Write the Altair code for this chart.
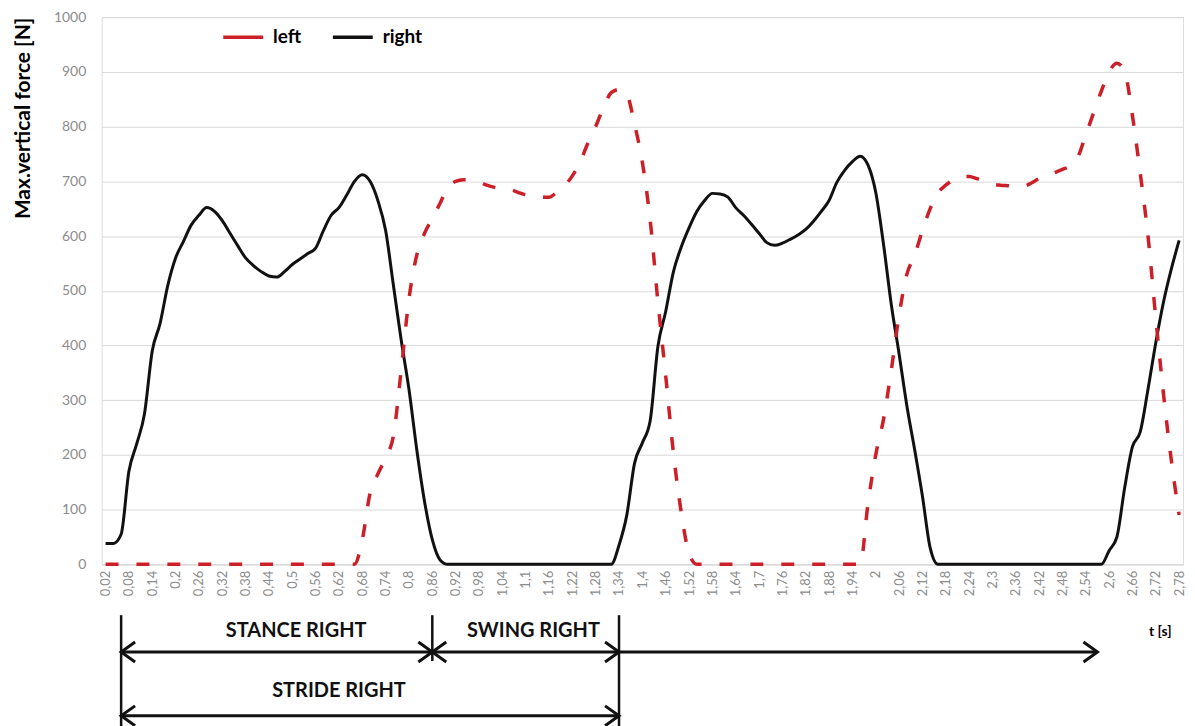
import altair as alt
import pandas as pd

# ---- data ---------------------------------------------------------------
# sample times (s): 0.02 ... 2.78, one sample every 0.02 s
times = [round(0.02 * (k + 1), 2) for k in range(139)]

right_force = (
    [38, 38, 55, 170, 220, 275, 390, 440, 510, 560,
     590, 620, 638, 652, 645, 628, 605, 582, 560, 546,
     535, 527, 525, 535, 548, 558, 568, 578, 610, 638,
     652, 675, 700, 712, 700, 665, 610, 510, 410, 320,
     210, 115, 45, 8]
    + [0] * 22
    + [35, 90, 185, 222, 262, 398, 462, 535, 580, 615,
       645, 665, 678, 677, 671, 652, 638, 622, 605, 588,
       583, 587, 594, 602, 612, 627, 645, 665, 698, 720,
       736, 746, 730, 680, 585, 475, 385, 290, 210, 125,
       30]
    + [0] * 22
    + [25, 50, 140, 215, 242, 320, 405, 480, 540, 592]
)

left_force = (
    [0] * 33
    + [45, 130, 165, 195, 235, 355, 485, 565, 605, 632,
       660, 689, 700, 703, 702, 699, 693, 689, 687, 685,
       680, 675, 672, 671, 671, 680, 692, 710, 735, 770,
       800, 835, 862, 868, 859, 804, 735, 630, 480, 345,
       203, 95, 20]
    + [0] * 22
    + [110, 200, 265, 355, 455, 530, 565, 610, 650, 679,
       693, 703, 708, 709, 705, 700, 695, 693, 692, 691,
       691, 697, 705, 710, 716, 722, 728, 745, 785, 825,
       865, 900, 916, 900, 820, 715, 600, 450, 310, 190,
       90]
)

series_names = ["left", "right"]
x_tick_values = times[::3]
y_tick_values = [0, 100, 200, 300, 400, 500, 600, 700, 800, 900, 1000]

# gait phases (s)
phase_names = ["STANCE RIGHT", "SWING RIGHT", "STRIDE RIGHT"]
phase_start = [0.06, 0.86, 0.06]
phase_end = [0.86, 1.34, 1.34]
phase_label_t = [0.51, 1.12, 0.62]
next_cycle_start = [1.34]
next_cycle_end = [2.57]

assert len(right_force) == len(times) == len(left_force)

# ---- styling --------------------------------------------------------------
RED = "#cc1f27"
BLACK = "#111111"
GRID = "#d9d9d9"
LABEL = "#8c8c8c"
FONT = "Lato"

df = pd.DataFrame({
    "t": times * 2,
    "force": right_force + left_force,
    "series": ["right"] * len(times) + ["left"] * len(times),
})

x_scale = alt.Scale(domain=[0.01, 2.79], nice=False, zero=False)
x_axis = alt.Axis(
    values=x_tick_values,
    labelExpr="replace(format(datum.value, '.2~f'), '.', ',')",
    labelAngle=270, labelFont=FONT, labelFontSize=13, labelColor=LABEL,
    labelPadding=6, labelOverlap=False, labelBound=False,
    ticks=False, grid=False, domainColor=GRID, domainWidth=1,
    title="t [s]", titleFont=FONT, titleFontSize=14, titleFontWeight="bold",
    titleColor="black", titleAnchor="end", titleAlign="right",
    titleX=1073, titleY=67, titleBaseline="middle",
)

color = alt.Color(
    "series:N",
    scale=alt.Scale(domain=series_names, range=[RED, BLACK]),
    legend=alt.Legend(
        title=None, orient="none", legendX=120, legendY=-2,
        direction="horizontal", symbolType="stroke", symbolSize=1600,
        symbolStrokeWidth=3.5, labelFont=FONT,
        labelFontSize=19, labelFontWeight="bold", labelColor="black",
        labelOffset=8, columnPadding=24, padding=0,
    ),
)

x_main = alt.X("t:Q", scale=x_scale, axis=x_axis)
y_main = alt.Y(
    "force:Q", scale=alt.Scale(domain=[0, 1000], nice=False),
    axis=alt.Axis(
        values=y_tick_values, format="d", labelFont=FONT, labelFontSize=14,
        labelColor=LABEL, labelPadding=16, ticks=False, domain=False,
        grid=True, gridColor=GRID, gridWidth=1,
        title="Max.vertical force [N]", titleFont=FONT, titleFontSize=21,
        titleFontWeight="bold", titleColor="black", titleAnchor="end",
        titlePadding=20,
    ),
)

base = alt.Chart(df)
right_line = base.transform_filter(alt.datum.series == "right").mark_line(
    strokeWidth=3, interpolate="monotone"
).encode(x=x_main, y=y_main, color=color)
left_line = base.transform_filter(alt.datum.series == "left").mark_line(
    strokeWidth=3.5, interpolate="monotone", strokeDash=[13, 18]
).encode(x=x_main, y=y_main, color=color)

# ---- annotation (below the axis) ----------------------------------------
ROW1 = 637
ROW2 = 701
x_plain = alt.X("t:Q", scale=x_scale, axis=x_axis)

def hrule(starts, ends, ypx):
    d = pd.DataFrame({"t": starts, "t2": ends})
    return alt.Chart(d).mark_rule(color=BLACK, strokeWidth=3).encode(
        x=x_plain, x2="t2:Q", y=alt.value(ypx))

def vrule(ts, top, bottom):
    d = pd.DataFrame({"t": ts})
    return alt.Chart(d).mark_rule(color=BLACK, strokeWidth=2.5).encode(
        x=x_plain, y=alt.value(top), y2=alt.value(bottom))

RIGHT_HEAD = "M-1.4,-1L0,0L-1.4,1"
LEFT_HEAD = "M1.4,-1L0,0L1.4,1"

def heads(ts, ypx, shape):
    d = pd.DataFrame({"t": ts})
    return alt.Chart(d).mark_point(
        shape=shape, size=400, filled=False, stroke=BLACK, strokeWidth=3,
        opacity=1,
    ).encode(x=x_plain, y=alt.value(ypx))

def labels(ts, names, ypx):
    d = pd.DataFrame({"t": ts, "label": names})
    return alt.Chart(d).mark_text(
        font=FONT, fontSize=20, fontWeight="bold", color=BLACK,
        baseline="middle",
    ).encode(x=x_plain, y=alt.value(ypx), text="label:N")

stance_swing = hrule(phase_start[:2], phase_end[:2], ROW1)
next_cycle = hrule(next_cycle_start, next_cycle_end, ROW1)
stride = hrule(phase_start[2:], phase_end[2:], ROW2)

bars_long = vrule([phase_start[0], phase_end[2]], 600, 715)
bar_short = vrule([phase_start[1]], 600, 646)

heads_r1_left = heads(phase_start[:2], ROW1, LEFT_HEAD)
heads_r1_right = heads(phase_end[:2] + next_cycle_end, ROW1, RIGHT_HEAD)
heads_r2_left = heads(phase_start[2:], ROW2, LEFT_HEAD)
heads_r2_right = heads(phase_end[2:], ROW2, RIGHT_HEAD)

labels_row1 = labels(phase_label_t[:2], phase_names[:2], 616)
labels_row2 = labels(phase_label_t[2:], phase_names[2:], 676)

chart = alt.layer(
    right_line, left_line,
    stance_swing, next_cycle, stride, bars_long, bar_short,
    heads_r1_left, heads_r1_right, heads_r2_left, heads_r2_right,
    labels_row1, labels_row2,
).properties(
    width=1085, height=549,
    padding={"left": 4, "top": 1, "right": 0, "bottom": 0},
).configure_view(stroke=None).configure(background="white")

chart.save("out.html", embed_options={"renderer": "svg", "actions": False})
